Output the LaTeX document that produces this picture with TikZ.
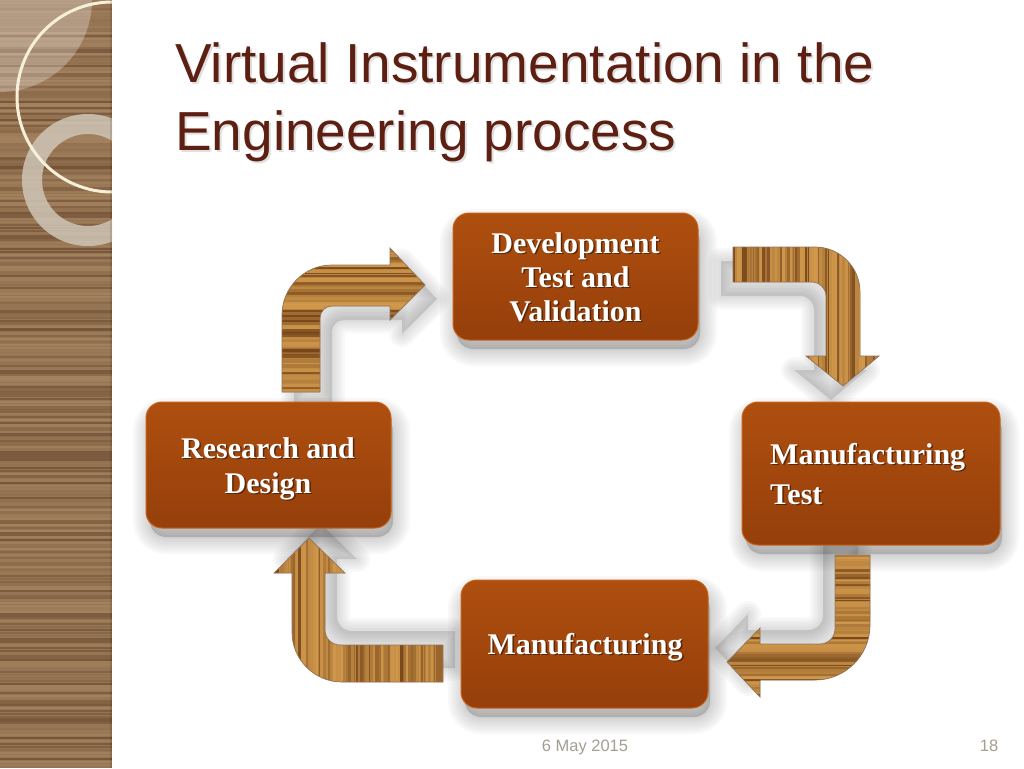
\documentclass[tikz,border=0pt]{standalone}
\usepackage{fontspec}
\setmainfont{Liberation Serif}
\newfontfamily\sansf{Liberation Sans}
\usetikzlibrary{calc}
\definecolor{sdark}{HTML}{6B4A30}
\definecolor{slight}{HTML}{A98763}
\definecolor{wdark}{HTML}{663812}
\definecolor{wlight}{HTML}{D59C4E}
\definecolor{titlecol}{HTML}{5C1F12}
\definecolor{boxtop}{HTML}{AE4F0F}
\definecolor{boxbot}{HTML}{963F0B}
\definecolor{boxrim}{HTML}{C8621A}
\definecolor{footcol}{HTML}{A59E91}
\definecolor{ringcol}{HTML}{CFC5B6}
\definecolor{circcol}{HTML}{F6F0D8}
\tikzset{
  box/.style={rectangle, rounded corners=16pt, top color=boxtop, bottom color=boxbot, draw=boxrim, line width=1pt, inner sep=0pt},
  lbl/.style={font=\bfseries\fontsize{30}{34}\selectfont, text=white, inner sep=0pt},
  lblsh/.style={font=\bfseries\fontsize{30}{34}\selectfont, text=black, opacity=0.45, inner sep=0pt},
  ttl/.style={font=\sansf\fontsize{55}{66}\selectfont, text=titlecol, inner sep=0pt},
  ttlsh/.style={font=\sansf\fontsize{55}{66}\selectfont, text=black!30, opacity=0.4, inner sep=0pt},
  foot/.style={font=\sansf\fontsize{16.5}{20}\selectfont, text=footcol, inner sep=0pt},
  woodedge/.style={draw=wdark!70, line width=0.7pt}
}
% arrow outlines (pixel coordinates, y downwards)
\newcommand\arrowA[1]{\path[#1] (282,392) -- (282,315) .. controls (282,287.4) and (304.4,265) .. (332,265) -- (390,265) -- (390,248) -- (425,285) -- (390,320) -- (390,306) -- (332,306) .. controls (325.4,306) and (320,311.4) .. (320,318) -- (320,392) -- cycle;}
\newcommand\arrowB[1]{\path[#1] (733,247) -- (815,247) .. controls (839.9,247) and (860,267.1) .. (860,292) -- (860,356) -- (879,356) -- (843,386) -- (806,356) -- (826,356) -- (826,296) .. controls (826,288.3) and (819.7,282) .. (812,282) -- (733,282) -- cycle;}
\newcommand\arrowC[1]{\path[#1] (835,555) -- (870,555) -- (870,625) .. controls (870,655.4) and (845.4,680) .. (815,680) -- (760,680) -- (760,697) -- (727,662) -- (760,628) -- (760,644) -- (820,644) .. controls (828.3,644) and (835,637.3) .. (835,629) -- cycle;}
\newcommand\arrowD[1]{\path[#1] (443,645) -- (443,682) -- (342,682) .. controls (314.4,682) and (292,659.6) .. (292,632) -- (292,573) -- (274,573) -- (309,538) -- (345,573) -- (325,573) -- (325,630) .. controls (325,638.3) and (331.7,645) .. (340,645) -- cycle;}
% wood stripes
\newcommand\woodH[4]{%
  \fill[wlight!75!wdark] (#1,#3) rectangle (#2,#4);
  \pgfmathtruncatemacro\nst{(#4-#3)/2.5}%
  \foreach \k in {0,...,\nst} {%
    \pgfmathtruncatemacro\cc{100*rnd^1.5}%
    \pgfmathsetmacro\lw{1.2+2.8*rnd}%
    \draw[line width=\lw pt, wdark!\cc!wlight, opacity=0.8] (#1,{#3+\k*2.5}) -- (#2,{#3+\k*2.5});
  }}
\newcommand\woodV[4]{%
  \fill[wlight!75!wdark] (#1,#3) rectangle (#2,#4);
  \pgfmathtruncatemacro\nst{(#2-#1)/2.5}%
  \foreach \k in {0,...,\nst} {%
    \pgfmathtruncatemacro\cc{100*rnd^1.5}%
    \pgfmathsetmacro\lw{1.2+2.8*rnd}%
    \draw[line width=\lw pt, wdark!\cc!wlight, opacity=0.8] ({#1+\k*2.5},#3) -- ({#1+\k*2.5},#4);
  }}
\newcommand\softbox[4]{%
  \foreach \w in {34,29,24,19,14,9,4} {%
    \filldraw[black!80, opacity=0.032, line width=\w pt, rounded corners=16pt, line join=round] (#1,#2) rectangle (#3,#4);
  }}
\newcommand\arrowshadow[3]{%
  \begin{scope}[shift={(#2,#3)}]
  \foreach \w in {26,21,16,11,6} {#1{fill=black!80, draw=black!80, opacity=0.03, line width=\w pt, line join=round}}
  \end{scope}}
\begin{document}
\begin{tikzpicture}[x=1pt,y=-1pt]
\pgfmathsetseed{4242}
\useasboundingbox (0,0) rectangle (1024,768);
\fill[white] (0,0) rectangle (1024,768);

% ---- left wooden strip ----
\begin{scope}
  \clip (0,0) rectangle (112,768);
  \fill[slight!70!sdark] (0,0) rectangle (112,768);
  \foreach \k in {0,...,255} {%
    \pgfmathtruncatemacro\cc{100*rnd^1.4}%
    \pgfmathsetmacro\lw{1+3*rnd}%
    \draw[line width=\lw pt, sdark!\cc!slight, opacity=0.75] (0,{\k*3}) -- (112,{\k*3});
  }
  \fill[white, opacity=0.28] (0,0) -- (92,0) .. controls (92,50.8) and (50.8,92) .. (0,92) -- cycle;
  \fill[ringcol, opacity=0.85, even odd rule] (88,180) circle[radius=66] (88,180) circle[radius=46];
  \draw[circcol, line width=3pt] (112,97) circle[radius=95];
  \fill[black, opacity=0.1] (110,0) rectangle (112,768);
\end{scope}

% ---- title ----
\node[ttlsh, anchor=base west] (t1s) at (177,84) {Virtual Instrumentation in the};
\node[ttlsh, anchor=base west] (t2s) at (177,152) {Engineering process};
\node[ttl, anchor=base west] (t1) at (175,82) {Virtual Instrumentation in the};
\node[ttl, anchor=base west] (t2) at (175,150) {Engineering process};

% ---- box shadows ----
\softbox{457}{226}{700}{349}
\softbox{150}{415}{393}{537}
\softbox{746}{415}{1002}{554}
\softbox{465}{593}{710}{717}

% ---- arrow shadows ----
\arrowshadow{\arrowA}{12}{14}
\arrowshadow{\arrowB}{-12}{14}
\arrowshadow{\arrowC}{-12}{-14}
\arrowshadow{\arrowD}{12}{-14}

% ---- wooden arrows ----
\begin{scope}\arrowA{clip}\woodH{278}{428}{246}{394}\end{scope}
\arrowA{woodedge}
\begin{scope}\arrowB{clip}\woodV{731}{881}{245}{388}\end{scope}
\arrowB{woodedge}
\begin{scope}\arrowC{clip}\woodH{725}{872}{553}{699}\end{scope}
\arrowC{woodedge}
\begin{scope}\arrowD{clip}\woodV{272}{447}{536}{684}\end{scope}
\arrowD{woodedge}

% ---- boxes ----
\node[box, minimum width=245pt, minimum height=127pt] (dtv) at (575.5,276.5) {};
\node[box, minimum width=245pt, minimum height=126pt] (rd) at (268.5,465) {};
\node[box, minimum width=258pt, minimum height=143pt] (mt) at (871,473.5) {};
\node[box, minimum width=247pt, minimum height=128pt] (mf) at (584.5,644) {};

% ---- box labels (shadow + text) ----
\node[lblsh, anchor=base] (dtv1s) at (577,254.5) {Development};
\node[lblsh, anchor=base] (dtv2s) at (577,288.5) {Test and};
\node[lblsh, anchor=base] (dtv3s) at (577,322.5) {Validation};
\node[lbl, anchor=base] (dtv1) at (575.5,253) {Development};
\node[lbl, anchor=base] (dtv2) at (575.5,287) {Test and};
\node[lbl, anchor=base] (dtv3) at (575.5,321) {Validation};

\node[lblsh, anchor=base] (rd1s) at (269.5,459.5) {Research and};
\node[lblsh, anchor=base] (rd2s) at (269.5,494.5) {Design};
\node[lbl, anchor=base] (rd1) at (268,458) {Research and};
\node[lbl, anchor=base] (rd2) at (268,493) {Design};

\node[lblsh, anchor=base west] (mt1s) at (771.5,465.5) {Manufacturing};
\node[lblsh, anchor=base west] (mt2s) at (771.5,505.5) {Test};
\node[lbl, anchor=base west] (mt1) at (770,464) {Manufacturing};
\node[lbl, anchor=base west] (mt2) at (770,504) {Test};

\node[lblsh, anchor=base] (mf1s) at (586.5,655.5) {Manufacturing};
\node[lbl, anchor=base] (mf1) at (585,654) {Manufacturing};

% ---- footer ----
\node[foot, anchor=base] (date) at (585,751) {6 May 2015};
\node[foot, anchor=base] (pg) at (989,751) {18};
\end{tikzpicture}
\end{document}
